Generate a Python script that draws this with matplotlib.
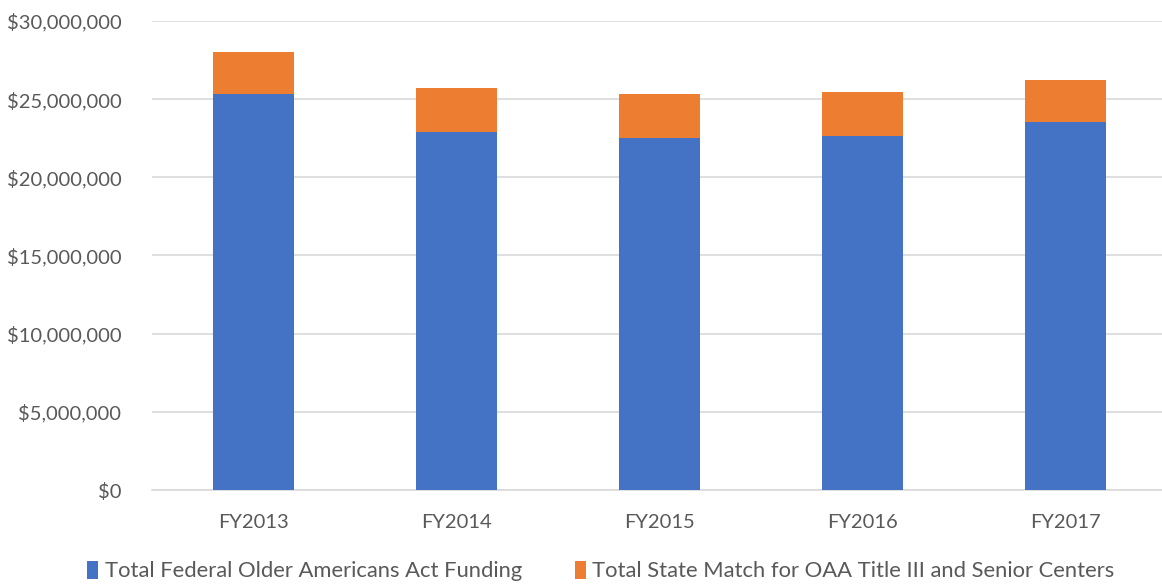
import matplotlib
matplotlib.use("Agg")
import matplotlib.pyplot as plt
from matplotlib.ticker import FuncFormatter, MultipleLocator

years = ["FY2013", "FY2014", "FY2015", "FY2016", "FY2017"]
federal = [25_320_000, 22_880_000, 22_500_000, 22_630_000, 23_530_000]
state_match = [2_690_000, 2_830_000, 2_820_000, 2_820_000, 2_670_000]
series_names = ["Total Federal Older Americans Act Funding",
                "Total State Match for OAA Title III and Senior Centers"]

plt.rcParams["font.family"] = ["Lato", "DejaVu Sans"]

text_color = "#595959"
blue = "#4472C4"
orange = "#ED7D31"

fig = plt.figure(figsize=(11.62, 5.86), dpi=100)
ax = fig.add_axes([152 / 1162, 96 / 586, 1015 / 1162, 469 / 586])

x = list(range(len(years)))
ax.bar(x, federal, width=0.40, color=blue, label=series_names[0], zorder=3)
ax.bar(x, state_match, width=0.40, bottom=federal, color=orange,
       label=series_names[1], zorder=3)

ax.set_xlim(-0.5, len(years) - 0.5)
ax.set_ylim(0, 30_000_000)
ax.yaxis.set_major_locator(MultipleLocator(5_000_000))
ax.yaxis.set_major_formatter(FuncFormatter(lambda v, _: f"${v:,.0f}"))
ax.set_xticks(x)
ax.set_xticklabels(years)

ax.grid(axis="y", color="#D9D9D9", linewidth=1.2, zorder=0)
for side in ["top", "right", "left"]:
    ax.spines[side].set_visible(False)
ax.spines["bottom"].set_color("#D9D9D9")
ax.spines["bottom"].set_linewidth(1.2)
ax.tick_params(axis="both", length=0, labelsize=14.5, colors=text_color)
ax.tick_params(axis="y", pad=22)
ax.tick_params(axis="x", pad=17)

leg = fig.legend(loc="lower center", bbox_to_anchor=(0.517, -0.026), ncol=2,
                 frameon=False, fontsize=15.8, handlelength=0.5, handleheight=0.85,
                 handletextpad=0.3, columnspacing=2.4)
for t in leg.get_texts():
    t.set_color(text_color)

fig.savefig("out.png", dpi=100)
